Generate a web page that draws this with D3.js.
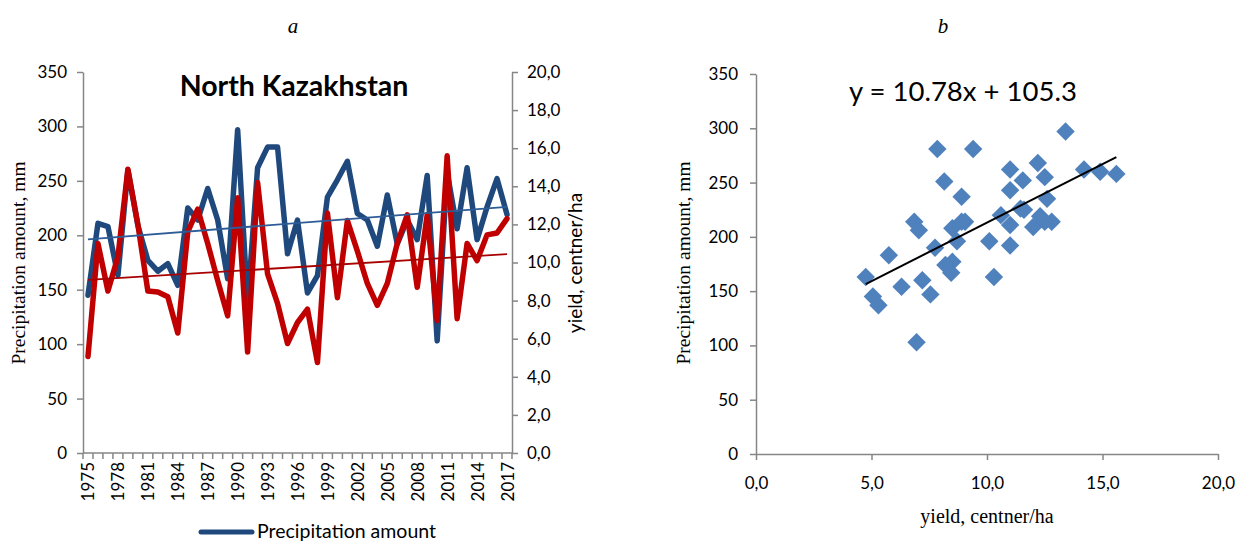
<!DOCTYPE html>
<html>
<head>
<meta charset="utf-8">
<script src="https://cdn.jsdelivr.net/npm/d3@7"></script>
<style>
body { margin: 0; background: #fff; }
</style>
</head>
<body>
<script>
const width = 1236;
const height = 543;

// years and the two series
const years = [1975, 1976, 1977, 1978, 1979, 1980, 1981, 1982, 1983, 1984,
	1985, 1986, 1987, 1988, 1989, 1990, 1991, 1992, 1993, 1994,
	1995, 1996, 1997, 1998, 1999, 2000, 2001, 2002, 2003, 2004,
	2005, 2006, 2007, 2008, 2009, 2010, 2011, 2012, 2013, 2014,
	2015, 2016, 2017];

const precipitation = [145, 211, 208, 163, 260, 209, 177, 167, 174, 154,
	225, 214, 243, 214, 160, 297, 137, 262, 281, 281,
	183, 214, 147, 163, 235, 251, 268, 220, 214, 190,
	237, 192, 214, 196, 255, 103, 258, 206, 262, 196,
	226, 252, 219];

const yieldValues = [5.06, 11.0, 8.5, 10.3, 14.9, 12.0, 8.5, 8.45, 8.2, 6.3,
	11.6, 12.8, 11.0, 9.05, 7.2, 13.4, 5.3, 14.2, 9.4, 7.85,
	5.75, 6.85, 7.55, 4.75, 12.6, 8.15, 12.2, 10.6, 8.9, 7.75,
	8.9, 11.0, 12.5, 8.7, 12.5, 6.95, 15.6, 7.05, 11.0, 10.1,
	11.45, 11.55, 12.3];

// axis ticks
const precipTicks = [0, 50, 100, 150, 200, 250, 300, 350];
const yieldTicks = [0, 2, 4, 6, 8, 10, 12, 14, 16, 18, 20];
const scatterXTicks = [0, 5, 10, 15, 20];

// trend equation printed on panel b
const trendSlope = 10.78;
const trendIntercept = 105.3;

const sans = "Lato, 'Open Sans', sans-serif";
const serif = "'Liberation Serif', 'Times New Roman', serif";
const axisGrey = "#868686";

const svg = d3.select("body")
	.append("svg")
	.attr("width", width)
	.attr("height", height);

const comma1 = (d) => d.toFixed(1).replace(".", ",");

function styleAxis(g, size) {
	g.select(".domain").attr("stroke", axisGrey).attr("stroke-width", 1.5);
	g.selectAll(".tick line").attr("stroke", axisGrey).attr("stroke-width", 1.5);
	g.selectAll(".tick text")
		.attr("fill", "#000")
		.style("font-family", sans)
		.style("font-size", size + "px");
}

// least squares over the index of each point
function fitLine(values) {
	const n = values.length;
	const xm = d3.mean(values, (d, i) => i);
	const ym = d3.mean(values);
	let sxy = 0, sxx = 0;
	values.forEach((v, i) => { sxy += (i - xm) * (v - ym); sxx += (i - xm) * (i - xm); });
	const b = sxy / sxx;
	return [ym - b * xm, ym + b * (n - 1 - xm)];
}

// ---------- panel a ----------
const x = d3.scaleBand().domain(years).range([83, 512]);
const cx = (yr) => x(yr) + x.bandwidth() / 2;
const yLeft = d3.scaleLinear().domain([0, 350]).range([453, 72]);
const yRight = d3.scaleLinear().domain([0, 20]).range([453, 72]);

svg.append("text")
	.attr("x", 293).attr("y", 33)
	.attr("text-anchor", "middle")
	.style("font-family", serif).style("font-style", "italic").style("font-size", "21px")
	.text("a");

svg.append("g")
	.attr("transform", "translate(83,0)")
	.call(d3.axisLeft(yLeft).tickValues(precipTicks).tickSize(6).tickSizeOuter(0).tickPadding(10))
	.call((g) => styleAxis(g, 17));

svg.append("g")
	.attr("transform", "translate(512,0)")
	.call(d3.axisRight(yRight).tickValues(yieldTicks).tickFormat(comma1).tickSize(6).tickSizeOuter(0).tickPadding(9))
	.call((g) => styleAxis(g, 17));

// category axis: tick at every category boundary
const xAxis = svg.append("g");
xAxis.append("line")
	.attr("x1", x.range()[0]).attr("x2", x.range()[1])
	.attr("y1", 453).attr("y2", 453)
	.attr("stroke", axisGrey).attr("stroke-width", 1.5);
xAxis.selectAll(".tk")
	.data(d3.range(years.length + 1))
	.enter().append("line")
	.attr("x1", (k) => x.range()[0] + k * x.step())
	.attr("x2", (k) => x.range()[0] + k * x.step())
	.attr("y1", 453).attr("y2", 459)
	.attr("stroke", axisGrey).attr("stroke-width", 1.5);
xAxis.selectAll("text")
	.data(years.filter((d, i) => i % 3 === 0))
	.enter().append("text")
	.attr("transform", (d) => "translate(" + cx(d) + ",462) rotate(-90)")
	.attr("text-anchor", "end")
	.attr("dominant-baseline", "central")
	.style("font-family", sans).style("font-size", "17px")
	.text((d) => d);

const precipLine = d3.line()
	.x((d, i) => cx(years[i]))
	.y((d) => yLeft(d));

const yieldLine = d3.line()
	.x((d, i) => cx(years[i]))
	.y((d) => yRight(d));

svg.append("path")
	.datum(precipitation)
	.attr("d", precipLine)
	.attr("fill", "none")
	.attr("stroke", "#1f497d")
	.attr("stroke-width", 5.5)
	.attr("stroke-linejoin", "round")
	.attr("stroke-linecap", "round");

svg.append("path")
	.datum(yieldValues)
	.attr("d", yieldLine)
	.attr("fill", "none")
	.attr("stroke", "#c00000")
	.attr("stroke-width", 5.5)
	.attr("stroke-linejoin", "round")
	.attr("stroke-linecap", "round");

// linear trend lines
const precipFit = fitLine(precipitation);
const yieldFit = fitLine(yieldValues);
const first = years[0], last = years[years.length - 1];

svg.append("line")
	.attr("x1", cx(first)).attr("x2", cx(last))
	.attr("y1", yLeft(precipFit[0])).attr("y2", yLeft(precipFit[1]))
	.attr("stroke", "#2d5c97").attr("stroke-width", 1.8);

svg.append("line")
	.attr("x1", cx(first)).attr("x2", cx(last))
	.attr("y1", yRight(yieldFit[0])).attr("y2", yRight(yieldFit[1]))
	.attr("stroke", "#a80000").attr("stroke-width", 1.8);

svg.append("text")
	.attr("x", 294).attr("y", 96)
	.attr("text-anchor", "middle")
	.style("font-family", sans).style("font-weight", "bold").style("font-size", "28.5px")
	.text("North Kazakhstan");

svg.append("text")
	.attr("transform", "translate(18,263) rotate(-90)")
	.attr("text-anchor", "middle")
	.attr("dominant-baseline", "central")
	.style("font-family", serif).style("font-size", "19.5px")
	.text("Precipitation amount, mm");

svg.append("text")
	.attr("transform", "translate(574,263) rotate(-90)")
	.attr("text-anchor", "middle")
	.attr("dominant-baseline", "central")
	.style("font-family", sans).style("font-size", "19px")
	.text("yield, centner/ha");

// legend (first entry only, the rest is cut off)
svg.append("line")
	.attr("x1", 201).attr("x2", 252)
	.attr("y1", 532).attr("y2", 532)
	.attr("stroke", "#1f497d").attr("stroke-width", 5)
	.attr("stroke-linecap", "round");
svg.append("text")
	.attr("x", 257).attr("y", 538)
	.style("font-family", sans).style("font-size", "19.5px")
	.text("Precipitation amount");

// ---------- panel b ----------
const xs = d3.scaleLinear().domain([0, 20]).range([756, 1218]);
const ys = d3.scaleLinear().domain([0, 350]).range([454, 74]);

svg.append("text")
	.attr("x", 943).attr("y", 33)
	.attr("text-anchor", "middle")
	.style("font-family", serif).style("font-style", "italic").style("font-size", "21px")
	.text("b");

svg.append("g")
	.attr("transform", "translate(756,0)")
	.call(d3.axisLeft(ys).tickValues(precipTicks).tickSize(6).tickSizeOuter(0).tickPadding(12))
	.call((g) => styleAxis(g, 17));

svg.append("g")
	.attr("transform", "translate(0,454)")
	.call(d3.axisBottom(xs).tickValues(scatterXTicks).tickFormat(comma1).tickSize(6).tickSizeOuter(0).tickPadding(17))
	.call((g) => styleAxis(g, 17));

svg.selectAll(".pt")
	.data(d3.range(years.length))
	.enter().append("path")
	.attr("class", "pt")
	.attr("d", d3.symbol(d3.symbolSquare, 170))
	.attr("transform", (i) => "translate(" + xs(yieldValues[i]) + "," + ys(precipitation[i]) + ") rotate(45)")
	.attr("fill", "#4f81bd");

const xmin = d3.min(yieldValues), xmax = d3.max(yieldValues);
svg.append("line")
	.attr("x1", xs(xmin)).attr("x2", xs(xmax))
	.attr("y1", ys(trendSlope * xmin + trendIntercept))
	.attr("y2", ys(trendSlope * xmax + trendIntercept))
	.attr("stroke", "#000").attr("stroke-width", 2);

svg.append("text")
	.attr("x", 849).attr("y", 101)
	.style("font-family", sans).style("font-size", "27.5px")
	.text("y = " + trendSlope + "x + " + trendIntercept);

svg.append("text")
	.attr("transform", "translate(683,263) rotate(-90)")
	.attr("text-anchor", "middle")
	.attr("dominant-baseline", "central")
	.style("font-family", serif).style("font-size", "19.5px")
	.text("Precipitation amount, mm");

svg.append("text")
	.attr("x", 987).attr("y", 523)
	.attr("text-anchor", "middle")
	.style("font-family", serif).style("font-size", "20px")
	.text("yield, centner/ha");
</script>
</body>
</html>
